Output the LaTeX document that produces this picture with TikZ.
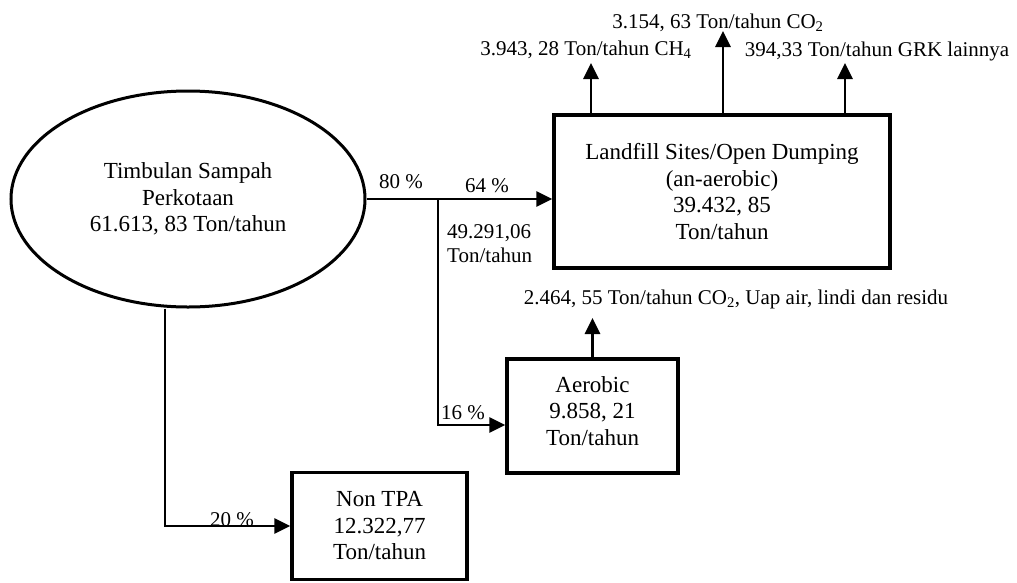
\documentclass[tikz,border=0pt]{standalone}
\usepackage{fontspec}
\setmainfont{Liberation Serif}
\usetikzlibrary{arrows.meta,positioning,calc,shapes.geometric}
\tikzset{
  boxtext/.style={font=\fontsize{23}{26.5}\selectfont,align=center},
  flow/.style={draw,line width=3.5pt,boxtext,inner sep=0pt},
  blob/.style={ellipse,draw,line width=3pt,boxtext,inner sep=0pt},
  arrow/.style={-{Triangle[length=16pt,width=15pt]},line width=2.8pt},
  note/.style={font=\fontsize{21}{24}\selectfont,align=left,inner sep=0pt}
}

\begin{document}
\begin{tikzpicture}[x=1pt,y=-1pt]
  \useasboundingbox (0,0) rectangle (1017,582);
  % waste streams
  \node[blob,minimum width=354pt,minimum height=216pt] (waste) at (188,199) {Timbulan Sampah\\Perkotaan\\61.613, 83 Ton/tahun};
  \node[flow,minimum width=336pt,minimum height=153pt] (landfill) at (722,191.5) {Landfill Sites/Open Dumping\\(an-aerobic)\\39.432, 85\\Ton/tahun};
  \node[flow,minimum width=171pt,minimum height=114pt,text depth=10pt] (aerobic) at (592.5,416) {Aerobic\\9.858, 21\\Ton/tahun};
  \node[flow,minimum width=175pt,minimum height=107pt] (nontpa) at (379.5,526) {Non TPA\\12.322,77\\Ton/tahun};
  \coordinate (split) at (438,199);
  \draw[arrow] (waste.east) -- (waste.east -| landfill.west);
  \draw[arrow] (split) |- ($(aerobic.west)+(0,9)$);
  \draw[arrow] ($(waste.south)+(-23,0)$) |- (nontpa.west);
  \node[note,anchor=base] (p80) at (401,188) {80 \%};
  \node[note,anchor=base] (p64) at (487,192) {64 \%};
  \node[note,anchor=north west] (m64) at (447,224) {49.291,06\\Ton/tahun};
  \node[note,anchor=base] (p16) at (463,419) {16 \%};
  \node[note,anchor=base] (p20) at (232,526) {20 \%};
  % emissions
  \coordinate (ch4tip) at (591,63);
  \coordinate (co2tip) at (723,31);
  \coordinate (grktip) at (845,63);
  \coordinate (residutip) at (592.5,318);
  \foreach \t in {ch4tip,co2tip,grktip} \draw[arrow] (landfill.north -| \t) -- (\t);
  \draw[arrow] (aerobic.north) -- (residutip);
  \node[note,anchor=base] (ch4) at (586,55) {3.943, 28 Ton/tahun CH\textsubscript{4}};
  \node[note,anchor=base] (co2) at (718,28) {3.154, 63 Ton/tahun CO\textsubscript{2}};
  \node[note,anchor=base] (grk) at (877,56) {394,33 Ton/tahun GRK lainnya};
  \node[note,anchor=base] (residu) at (736,304) {2.464, 55 Ton/tahun CO\textsubscript{2}, Uap air, lindi dan residu};
\end{tikzpicture}
\end{document}
